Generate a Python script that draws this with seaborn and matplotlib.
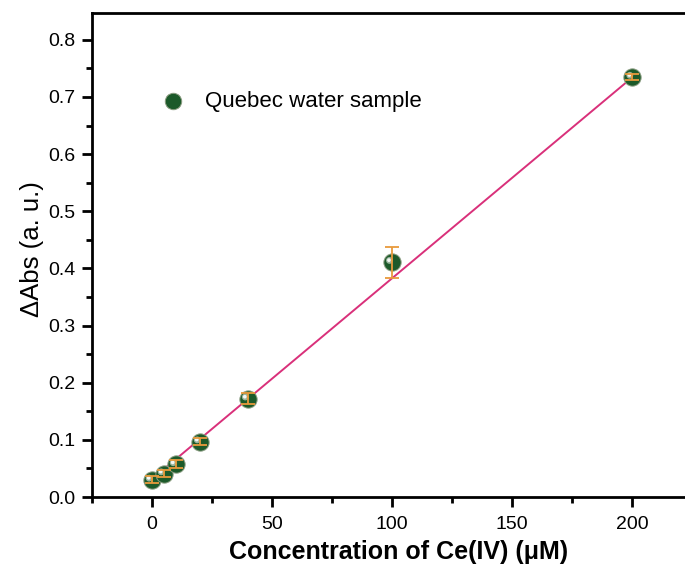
import numpy as np
import pandas as pd
import matplotlib
matplotlib.use("Agg")
import matplotlib.pyplot as plt
import seaborn as sns
from matplotlib.ticker import MultipleLocator

# ---- data ----
conc = [0, 5, 10, 20, 40, 100, 200]
dabs = [0.030, 0.041, 0.057, 0.097, 0.172, 0.411, 0.735]
err = [0.006, 0.006, 0.007, 0.006, 0.010, 0.027, 0.006]
fit_slope = 0.003518
fit_intercept = 0.031
fit_range = [0, 200]
series_label = "Quebec water sample"

sns.set_style("ticks")
plt.rcParams['font.family'] = ['Liberation Sans', 'DejaVu Sans']
plt.rcParams['text.color'] = 'black'
plt.rcParams['axes.labelcolor'] = 'black'
plt.rcParams['xtick.color'] = 'black'
plt.rcParams['ytick.color'] = 'black'

df = pd.DataFrame({"conc": conc, "dabs": dabs, "err": err})
fit_df = pd.DataFrame({"x": fit_range})
fit_df["y"] = fit_intercept + fit_slope * fit_df["x"]

fig = plt.figure(figsize=(6.85, 5.67), dpi=100)
ax = fig.add_axes([91.7/685, 70/567, (692.5-91.7)/685, (497-13)/567])

sns.lineplot(data=fit_df, x="x", y="y", ax=ax, color="#D9307A", lw=1.4, zorder=2)
sns.scatterplot(data=df, x="conc", y="dabs", ax=ax, s=155, color="#1C5A2A",
                edgecolor="#8a9c80", linewidth=0.7, zorder=3, label=series_label)
# sphere highlight
ax.scatter(np.array(conc) - 1.1, np.array(dabs) + 0.003, s=24, color="#b9cbb9",
           edgecolor="none", zorder=4, alpha=0.8)
ax.scatter(np.array(conc) - 1.3, np.array(dabs) + 0.0035, s=7, color="white",
           edgecolor="none", zorder=4, alpha=0.9)
ax.errorbar(conc, dabs, yerr=err, fmt="none", ecolor="#E89A3C", elinewidth=1.3,
            capsize=5, capthick=1.3, zorder=5)

ax.set_xlim(-25, 225)
ax.set_ylim(0, 0.847)
ax.xaxis.set_major_locator(MultipleLocator(50))
ax.xaxis.set_minor_locator(MultipleLocator(25))
ax.yaxis.set_major_locator(MultipleLocator(0.1))
ax.yaxis.set_minor_locator(MultipleLocator(0.05))
ax.yaxis.set_major_formatter(matplotlib.ticker.FormatStrFormatter('%.1f'))

for s in ["left", "bottom", "top", "right"]:
    ax.spines[s].set_linewidth(2)
    ax.spines[s].set_color("black")
ax.tick_params(which="major", direction="out", length=7, width=2, labelsize=14,
               top=False, right=False)
ax.tick_params(axis="x", which="major", pad=7)
ax.tick_params(axis="y", which="major", pad=5)
ax.tick_params(which="minor", direction="out", length=4, width=2, top=False, right=False)

ax.set_xlabel("Concentration of Ce(IV) (μM)", fontsize=18, fontweight="bold", labelpad=5)
ax.set_ylabel("ΔAbs (a. u.)", fontsize=18.5, labelpad=3)
ax.xaxis.label.set_x(0.511)
ax.yaxis.label.set_y(0.512)

leg = ax.legend(loc="upper left", bbox_to_anchor=(0.065, 0.88), frameon=False,
                fontsize=16, handletextpad=0.45, markerscale=0.95)
for t in leg.get_texts():
    t.set_color("black")

fig.savefig("out.png", dpi=100)
